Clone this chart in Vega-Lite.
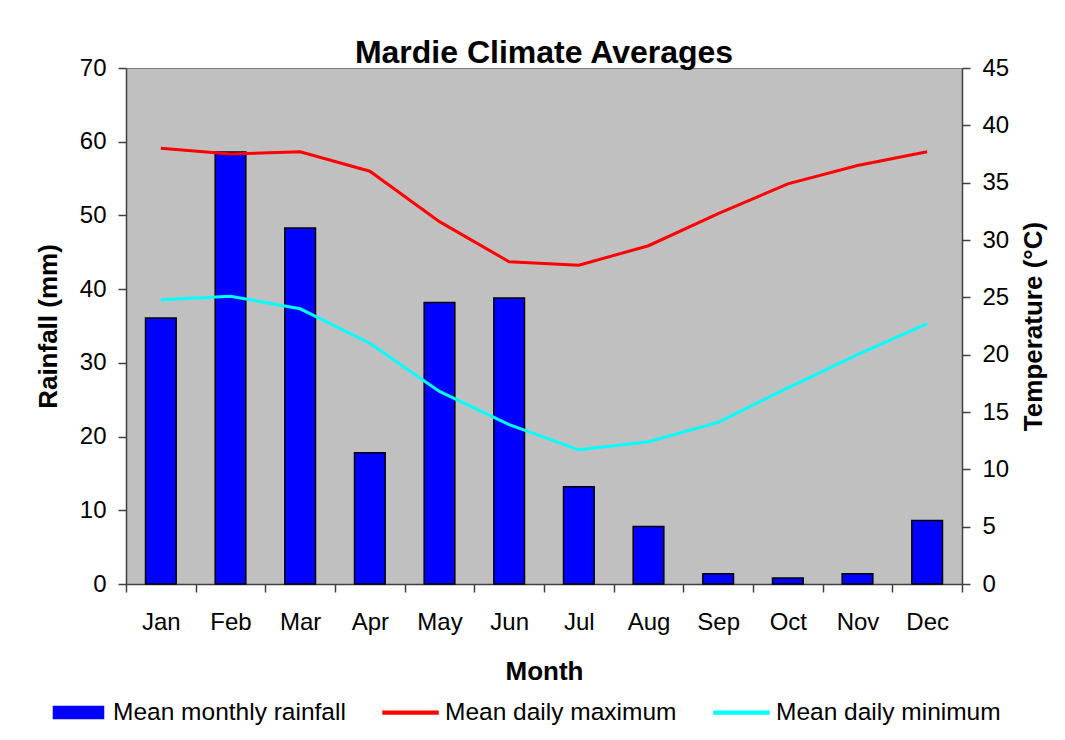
{
  "$schema": "https://vega.github.io/schema/vega-lite/v6.json",
  "autosize": "none",
  "padding": {"left": 126, "top": 68, "right": 103, "bottom": 156},
  "width": 836,
  "height": 516,
  "background": "white",
  "title": {
    "text": "Mardie Climate Averages",
    "font": "Liberation Sans",
    "fontSize": 32,
    "fontWeight": "bold",
    "color": "black",
    "anchor": "middle",
    "offset": -14
  },
  "data": {
    "values": [
      {"month": "Jan", "rain": 36.1, "tmax": 38.0, "tmin": 24.8},
      {"month": "Feb", "rain": 58.6, "tmax": 37.5, "tmin": 25.1},
      {"month": "Mar", "rain": 48.3, "tmax": 37.7, "tmin": 24.0},
      {"month": "Apr", "rain": 17.8, "tmax": 36.0, "tmin": 21.0},
      {"month": "May", "rain": 38.2, "tmax": 31.6, "tmin": 16.8},
      {"month": "Jun", "rain": 38.8, "tmax": 28.1, "tmin": 13.9},
      {"month": "Jul", "rain": 13.2, "tmax": 27.8, "tmin": 11.7},
      {"month": "Aug", "rain": 7.8, "tmax": 29.5, "tmin": 12.4},
      {"month": "Sep", "rain": 1.4, "tmax": 32.3, "tmin": 14.1},
      {"month": "Oct", "rain": 0.8, "tmax": 34.9, "tmin": 17.1},
      {"month": "Nov", "rain": 1.4, "tmax": 36.5, "tmin": 20.0},
      {"month": "Dec", "rain": 8.6, "tmax": 37.7, "tmin": 22.7}
    ]
  },
  "encoding": {
    "x": {
      "field": "month",
      "type": "nominal",
      "sort": null,
      "scale": {"paddingInner": 0, "paddingOuter": 0},
      "axis": {
        "title": "Month",
        "labelAngle": 0,
        "tickBand": "extent",
        "labelPadding": 18,
        "titlePadding": 24
      }
    }
  },
  "layer": [
    {
      "mark": {"type": "bar", "stroke": "black", "strokeWidth": 1.5, "width": {"band": 0.44}},
      "encoding": {
        "y": {
          "field": "rain",
          "type": "quantitative",
          "scale": {"domain": [0, 70], "nice": false},
          "axis": {"title": "Rainfall (mm)", "orient": "left", "values": [0, 10, 20, 30, 40, 50, 60, 70], "labelPadding": 12, "titlePadding": 18}
        },
        "color": {
          "datum": "Mean monthly rainfall",
          "type": "nominal",
          "legend": {
            "orient": "none",
            "legendX": -76,
            "legendY": 616,
            "direction": "horizontal",
            "symbolSize": 3025,
            "symbolStrokeWidth": 1.5,
            "encode": {"symbols": {"update": {
              "shape": {"signal": "datum.value === 'Mean monthly rainfall' ? 'M-0.91,-0.22H0.91V0.22H-0.91Z' : 'M-1,-0.05H1V0.05H-1Z'"},
              "fill": {"signal": "datum.value === 'Mean monthly rainfall' ? '#0000ff' : (datum.value === 'Mean daily maximum' ? '#ff0000' : '#00ffff')"},
              "stroke": {"signal": "datum.value === 'Mean monthly rainfall' ? 'black' : (datum.value === 'Mean daily maximum' ? '#ff0000' : '#00ffff')"}
            }}}
          }
        }
      }
    },
    {
      "layer": [
        {
          "mark": {"type": "line", "strokeWidth": 3},
          "encoding": {
            "y": {
              "field": "tmax",
              "type": "quantitative",
              "scale": {"domain": [0, 45], "nice": false},
              "axis": {"title": "Temperature (°C)", "orient": "right", "values": [0, 5, 10, 15, 20, 25, 30, 35, 40, 45], "labelPadding": 12, "titlePadding": 12, "titleAngle": 270, "titleBaseline": "top"}
            },
            "color": {
              "datum": "Mean daily maximum",
              "type": "nominal",
              "legend": {
                "orient": "none",
                "legendX": -76,
                "legendY": 616,
                "direction": "horizontal",
                "symbolSize": 3025,
                "symbolStrokeWidth": 1.5,
                "encode": {"symbols": {"update": {
                  "shape": {"signal": "datum.value === 'Mean monthly rainfall' ? 'M-0.91,-0.22H0.91V0.22H-0.91Z' : 'M-1,-0.05H1V0.05H-1Z'"},
                  "fill": {"signal": "datum.value === 'Mean monthly rainfall' ? '#0000ff' : (datum.value === 'Mean daily maximum' ? '#ff0000' : '#00ffff')"},
                  "stroke": {"signal": "datum.value === 'Mean monthly rainfall' ? 'black' : (datum.value === 'Mean daily maximum' ? '#ff0000' : '#00ffff')"}
                }}}
              }
            }
          }
        },
        {
          "mark": {"type": "line", "strokeWidth": 3},
          "encoding": {
            "y": {
              "field": "tmin",
              "type": "quantitative",
              "scale": {"domain": [0, 45], "nice": false},
              "axis": {"title": "Temperature (°C)", "orient": "right", "values": [0, 5, 10, 15, 20, 25, 30, 35, 40, 45], "labelPadding": 12, "titlePadding": 12, "titleAngle": 270, "titleBaseline": "top"}
            },
            "color": {
              "datum": "Mean daily minimum",
              "type": "nominal",
              "legend": {
                "orient": "none",
                "legendX": -76,
                "legendY": 616,
                "direction": "horizontal",
                "symbolSize": 3025,
                "symbolStrokeWidth": 1.5,
                "encode": {"symbols": {"update": {
                  "shape": {"signal": "datum.value === 'Mean monthly rainfall' ? 'M-0.91,-0.22H0.91V0.22H-0.91Z' : 'M-1,-0.05H1V0.05H-1Z'"},
                  "fill": {"signal": "datum.value === 'Mean monthly rainfall' ? '#0000ff' : (datum.value === 'Mean daily maximum' ? '#ff0000' : '#00ffff')"},
                  "stroke": {"signal": "datum.value === 'Mean monthly rainfall' ? 'black' : (datum.value === 'Mean daily maximum' ? '#ff0000' : '#00ffff')"}
                }}}
              }
            }
          }
        }
      ]
    }
  ],
  "resolve": {"scale": {"y": "independent"}},
  "config": {
    "view": {"fill": "#c0c0c0", "stroke": "#808080", "strokeWidth": 1},
    "font": "Liberation Sans",
    "range": {"category": ["#0000ff", "#ff0000", "#00ffff"]},
    "axis": {
      "grid": false,
      "labelFont": "Liberation Sans",
      "labelFontSize": 24,
      "labelColor": "black",
      "titleFont": "Liberation Sans",
      "titleFontSize": 26,
      "titleFontWeight": "bold",
      "titleColor": "black",
      "tickColor": "#404040",
      "tickSize": 8,
      "tickWidth": 1.5,
      "domainColor": "#404040",
      "domainWidth": 1.5
    },
    "legend": {
      "title": null,
      "labelFont": "Liberation Sans",
      "labelFontSize": 24.5,
      "labelColor": "black",
      "symbolSize": 3025,
      "symbolStrokeWidth": 1.5,
      "columnPadding": 34,
      "labelOffset": 6,
      "labelLimit": 400
    }
  }
}
